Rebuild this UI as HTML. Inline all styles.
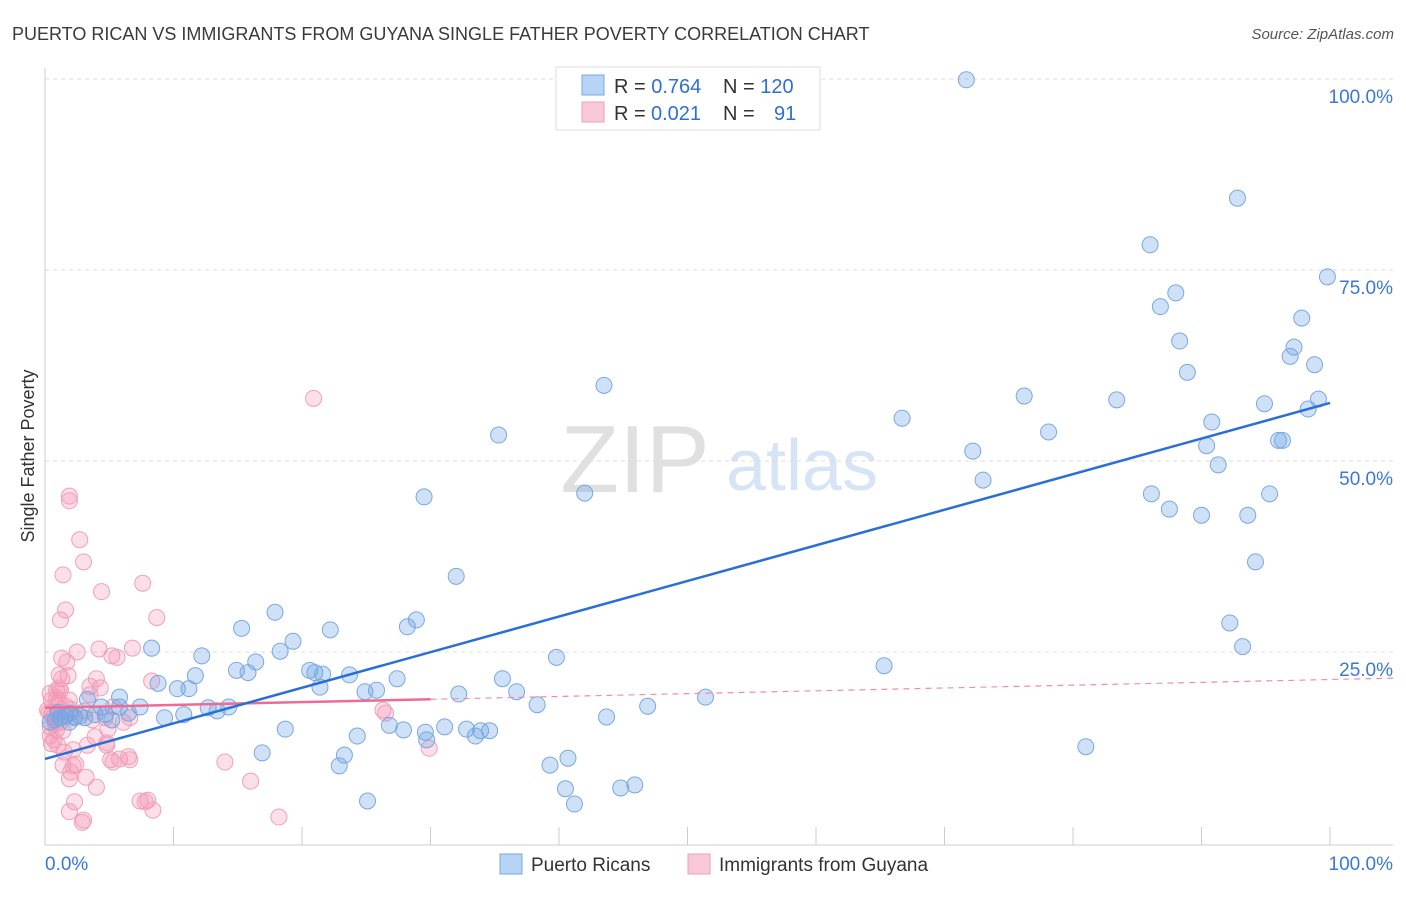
<!DOCTYPE html>
<html><head><meta charset="utf-8"><style>
body{margin:0;background:#fff;font-family:"Liberation Sans",sans-serif;}
svg text{font-family:"Liberation Sans",sans-serif;}
</style></head><body>
<svg id="chart" width="1406" height="892">
<text x="12" y="40" font-size="18" fill="#3a3a3a">PUERTO RICAN VS IMMIGRANTS FROM GUYANA SINGLE FATHER POVERTY CORRELATION CHART</text>
<text x="1394" y="39" font-size="15" fill="#555" font-style="italic" text-anchor="end">Source: ZipAtlas.com</text>
<text x="34" y="456" font-size="18" fill="#333" text-anchor="middle" transform="rotate(-90 34 456)">Single Father Poverty</text>
<g><text x="635" y="492" font-size="96" fill="#e0e0e0" font-family="Liberation Serif" text-anchor="middle">ZIP</text><text x="802" y="490" font-size="72" fill="#d6e4f5" text-anchor="middle">atlas</text></g>
<g id="grid"></g><g id="axes"></g><g id="marks"></g>
<g>
<rect x="556" y="67" width="264" height="63" fill="#fff" stroke="#ddd"/>
<rect x="582" y="75" width="22" height="20" fill="#b7d3f5" stroke="#7aa8e0"/>
<rect x="582" y="102" width="22" height="20" fill="#f9c9d7" stroke="#f0a0b8"/>
<text x="614" y="93" font-size="20" fill="#333">R = <tspan fill="#2f6fd0">0.764</tspan></text>
<text x="723" y="93" font-size="20" fill="#333">N = <tspan fill="#2f6fd0">120</tspan></text>
<text x="614" y="120" font-size="20" fill="#333">R = <tspan fill="#2f6fd0" x="651">0.021</tspan></text>
<text x="723" y="120" font-size="20" fill="#333">N = <tspan fill="#2f6fd0" x="774">91</tspan></text>
</g>
<g>
<rect x="500" y="854" width="22" height="20" fill="#b7d3f5" stroke="#7aa8e0"/>
<text x="531" y="871" font-size="19" fill="#333">Puerto Ricans</text>
<rect x="688" y="854" width="22" height="20" fill="#f9c9d7" stroke="#f0a0b8"/>
<text x="719" y="871" font-size="19" fill="#333">Immigrants from Guyana</text>
</g>
</svg>
<script>
const blueX=[71.7,92.8,86.0,99.8,88.0,86.8,97.8,88.3,97.2,96.9,98.8,88.9,43.5,76.2,83.4,99.1,94.9,98.3,66.7,90.8,78.1,35.3,96.0,96.3,90.4,72.2,91.3,73.0,42.0,29.5,86.1,95.3,87.5,90.0,93.6,94.2,32.0,17.9,28.9,92.2,22.2,15.3,28.2,19.3,8.3,93.2,12.2,18.3,39.8,65.3,16.4,14.9,15.8,20.6,21.0,21.6,23.7,11.7,27.4,35.6,8.8,21.4,10.3,11.2,25.8,24.9,32.2,36.7,51.4,5.8,3.3,7.4,5.8,4.4,12.7,14.3,38.3,46.9,13.4,10.8,9.3,6.5,4.7,43.7,18.7,26.8,27.9,31.1,32.8,29.6,34.6,33.9,29.7,33.5,24.3,16.9,23.3,81.0,40.7,22.9,39.3,40.5,44.8,45.9,41.2,25.1,1.9,1.2,0.8,1.6,2.3,2.7,0.4,3.9,5.2,1.9,1.0,3.1];
const blueY=[99.9,84.4,78.3,74.1,72.0,70.2,68.7,65.7,64.9,63.7,62.6,61.6,59.9,58.5,58.0,58.1,57.5,56.8,55.6,55.1,53.8,53.4,52.7,52.7,52.0,51.3,49.5,47.5,45.8,45.3,45.7,45.7,43.7,42.9,42.9,36.8,34.9,30.2,29.2,28.8,27.9,28.1,28.3,26.4,25.5,25.7,24.5,25.1,24.3,23.2,23.7,22.6,22.3,22.6,22.3,22.1,22.0,21.9,21.5,21.5,20.9,20.4,20.2,20.2,20.0,19.8,19.5,19.8,19.1,19.1,18.8,17.8,17.8,17.8,17.7,17.8,18.1,17.9,17.3,16.8,16.4,17.0,16.8,16.5,14.9,15.4,14.8,15.2,14.9,14.5,14.7,14.7,13.5,14.0,14.0,11.8,11.5,12.6,11.1,10.1,10.2,7.1,7.2,7.6,5.1,5.5,17.0,16.4,16.1,16.6,16.5,16.6,15.8,16.8,16.1,15.8,17.1,16.4];
const pinkX=[20.9,1.9,1.9,2.7,3.0,1.4,4.4,7.6,1.6,1.2,8.7,2.5,1.3,4.2,6.8,1.7,5.2,5.6,1.1,1.3,1.8,4.0,8.3,1.1,0.9,0.4,0.9,3.5,0.5,1.6,1.1,2.0,5.3,3.1,0.3,0.6,1.2,2.3,3.7,4.7,6.1,0.4,0.9,1.4,6.6,4.9,26.3,26.5,0.7,0.5,3.9,4.8,4.8,2.2,1.5,5.8,2.4,5.1,5.3,2.2,14.0,16.0,3.2,1.9,2.0,6.5,6.6,4.0,8.0,7.4,8.4,7.8,2.3,1.9,3.0,2.9,18.2,29.9,1.2,0.9,0.2,0.5,0.8,1.5,1.9,0.4,1.0,3.3,1.4,3.5,4.3];
const pinkY=[58.2,45.4,44.8,39.7,36.8,35.1,32.9,34.0,30.5,29.2,29.5,25.0,24.2,25.4,25.5,23.7,24.5,24.3,22.0,21.5,21.9,21.5,21.2,20.3,20.0,19.6,19.0,20.5,18.7,17.9,18.6,17.5,17.8,17.3,17.1,16.4,15.8,16.4,16.1,16.4,15.8,15.2,14.8,14.7,16.4,14.9,17.4,17.0,13.5,13.0,13.9,13.1,12.8,12.2,11.9,11.0,10.3,10.9,10.6,10.1,10.6,8.1,8.6,8.4,9.3,11.3,10.9,7.3,5.6,5.5,4.3,5.4,5.4,4.1,3.0,2.7,3.4,12.4,20.0,18.1,17.4,16.9,15.6,16.6,18.7,14.0,12.8,12.8,10.2,19.4,20.3];
const blueTrend=[11.0,57.6];
const pinkTrend=[17.7,21.4];
const yTicks=[25,50,75,100];
const xTickLabels=["0.0%","100.0%"];
const NS="http://www.w3.org/2000/svg";
const sx=v=>45+v*12.85, sy=v=>843-v*7.64;
function mk(t,a,p){const e=document.createElementNS(NS,t);for(const k in a)e.setAttribute(k,a[k]);document.getElementById(p).appendChild(e);return e;}
yTicks.forEach(t=>{
 const g=mk('line',{x1:45,x2:1393,y1:sy(t),y2:sy(t),stroke:'#ddd','stroke-dasharray':'4,4'},'grid');
 
 
 const l=mk('text',{x:1393,y:sy(t)+24,'font-size':19,fill:'#3a78d4','text-anchor':'end'},'grid');
 l.textContent=t.toFixed(1)+'%';
 
 
});
const ax=mk('line',{x1:45,x2:1393,y1:845,y2:845,stroke:'#ccc'},'axes');


const ay=mk('line',{x1:45,x2:45,y1:68,y2:845,stroke:'#ccc'},'axes');


for(let i=0;i<=10;i++){const t=mk('line',{x1:sx(i*10),x2:sx(i*10),y1:827,y2:845,stroke:'#ccc'},'axes');
 
 }
const xl0=mk('text',{x:45,y:870,'font-size':19,fill:'#3a78d4'},'axes');xl0.textContent=xTickLabels[0];


const xl1=mk('text',{x:1393,y:870,'font-size':19,fill:'#3a78d4','text-anchor':'end'},'axes');xl1.textContent=xTickLabels[1];


pinkX.forEach((x,i)=>{const c=mk('circle',{cx:sx(x),cy:sy(pinkY[i]),r:8,fill:'rgba(244,150,180,0.3)',stroke:'#f0a0b8','stroke-width':1},'marks');
 
 });
blueX.forEach((x,i)=>{const c=mk('circle',{cx:sx(x),cy:sy(blueY[i]),r:8,fill:'rgba(110,165,230,0.33)',stroke:'#7aa8e0','stroke-width':1},'marks');
 
 });
const pf=x=>pinkTrend[0]+(pinkTrend[1]-pinkTrend[0])*x/100;
const pd=mk('line',{x1:sx(30),y1:sy(pf(30)),x2:sx(105),y2:sy(pf(105)),stroke:'#f08cab','stroke-width':1.2,'stroke-dasharray':'6,5'},'marks');


const ps=mk('line',{x1:sx(0),y1:sy(pf(0)),x2:sx(30),y2:sy(pf(30)),stroke:'#ee6b95','stroke-width':2.5},'marks');


const bl=mk('line',{x1:sx(0),y1:sy(blueTrend[0]),x2:sx(100),y2:sy(blueTrend[1]),stroke:'#2a6fd6','stroke-width':2.5},'marks');


</script>
</body></html>
